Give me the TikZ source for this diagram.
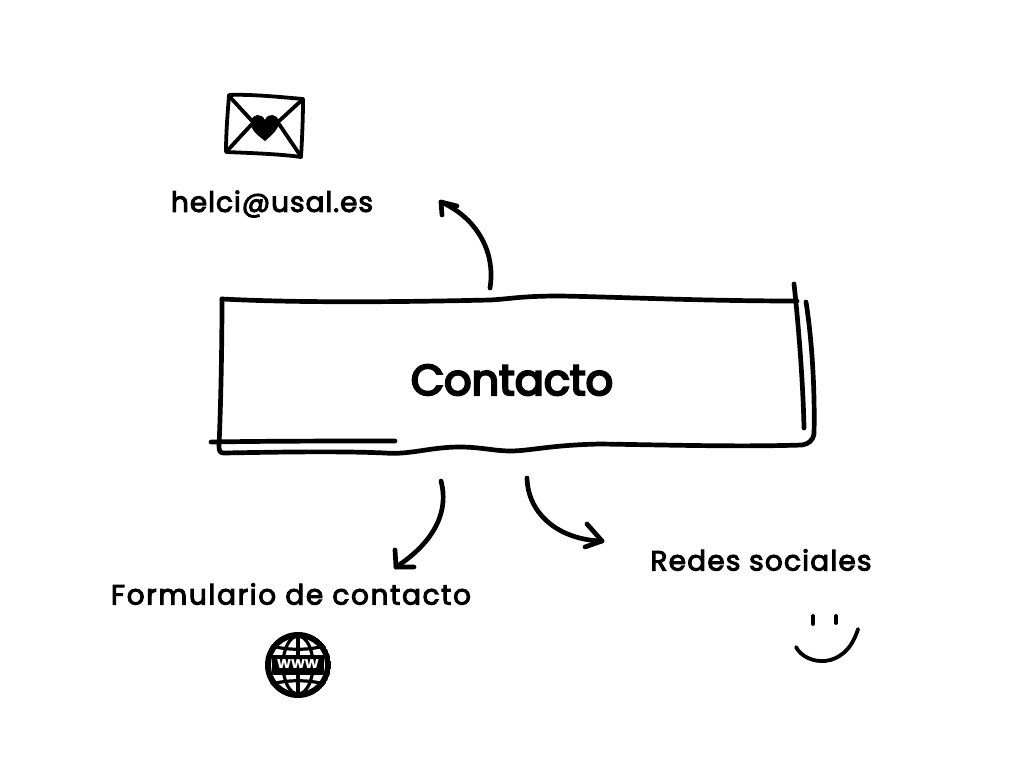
\documentclass[tikz,border=0pt]{standalone}
\usepackage{fontspec}
\setmainfont{Poppins}
\newfontfamily\handfont[FakeBold=3.5]{Poppins}
\newfontfamily\handtitle[FakeBold=5]{Poppins}
\usetikzlibrary{calc}
\tikzset{
  ink/.style={draw=black,line width=4.7pt,line cap=round,line join=round},
  thinink/.style={draw=black,line width=3.8pt,line cap=round,line join=round},
  label/.style={inner sep=0pt,text=black},
  title/.style={inner sep=0pt,font=\handtitle\fontsize{43}{46}\selectfont,text=black},
}
\begin{document}
\begin{tikzpicture}[x=1pt,y=-1pt]
\useasboundingbox (0,0) rectangle (1024,768);
% box
\draw[ink] (222,299) .. controls (300,303) and (400,302) .. (490,300)
  .. controls (510,299) and (520,296) .. (560,296)
  .. controls (620,297) and (700,301) .. (797,301);
\draw[ink] (222,299) .. controls (222,340) and (221,400) .. (219,446)
  .. controls (219,451) and (220,453) .. (224,453)
  .. controls (280,452) and (340,451) .. (385,453)
  .. controls (410,455) and (430,447) .. (460,447)
  .. controls (480,447) and (495,451) .. (510,451)
  .. controls (530,451) and (550,445) .. (600,444)
  .. controls (670,445) and (740,447) .. (802,445)
  .. controls (809,444) and (813,440) .. (814,434)
  .. controls (815,390) and (812,340) .. (806,302);
\draw[ink] (794,284) .. controls (798,320) and (803,380) .. (804,428);
\draw[ink] (211,442) .. controls (270,441) and (340,441) .. (395,441);
\node[title] (contacto) at (512,380) {Contacto};
% labels
\node[label,font=\handfont\fontsize{28}{30}\selectfont\addfontfeature{LetterSpace=3.4}] (mail) at (272,204) {helci@usal.es};
\node[label,font=\handfont\fontsize{28}{30}\selectfont\addfontfeature{LetterSpace=5.9}] (form) at (291,594) {Formulario de contacto};
\node[label,font=\handfont\fontsize{28}{30}\selectfont\addfontfeature{LetterSpace=4.2}] (redes) at (761,560) {Redes sociales};
% arrows
\coordinate (a1s) at (490,288); \coordinate (a1e) at (441,202);
\coordinate (a2s) at (441,481); \coordinate (a2e) at (396,567);
\coordinate (a3s) at (527,478); \coordinate (a3e) at (602,541);
\draw[ink] (a1s) .. controls (496,250) and (475,217) .. (a1e);
\draw[ink] (442,215) -- (a1e) -- (457,206);
\draw[ink] (a2s) .. controls (450,515) and (430,545) .. (a2e);
\draw[ink] (395,550) -- (a2e) -- (414,567);
\draw[ink] (a3s) .. controls (528,515) and (560,540) .. (a3e);
\draw[ink] (587,524) -- (a3e) -- (585,547);
% envelope
\draw[thinink] (229,95) .. controls (250,94) and (280,97) .. (303,99)
  .. controls (303,120) and (302,140) .. (301,157)
  .. controls (280,154) and (250,153) .. (226,152)
  .. controls (226,130) and (228,110) .. (229,95) -- cycle;
\draw[thinink] (229,96) -- (253,122);
\draw[thinink] (303,99) -- (278,122);
\draw[thinink] (227,151) -- (252,124);
\draw[thinink] (300,155) -- (279,124);
\fill (265,141) .. controls (257,135) and (250,129) .. (251,122)
  .. controls (252,113) and (262,113) .. (265,120)
  .. controls (268,112) and (278,114) .. (279,122)
  .. controls (279,129) and (272,135) .. (265,141) -- cycle;
% globe
\begin{scope}[shift={(298,665)}]
\clip (0,0) circle (33);
\fill[black] (0,0) circle (33);
\fill[white] (0,0) circle (27);
\draw[black,line width=3.2pt] (-32,-21) .. controls (-15,-14) and (15,-14) .. (32,-21);
\draw[black,line width=3.2pt] (-32,21) .. controls (-15,14) and (15,14) .. (32,21);
\draw[black,line width=3.2pt] (0,-32) -- (0,32);
\draw[black,line width=3.2pt] (0,0) ellipse (15 and 29);
\fill[black] (-26,-10) rectangle (26,10);
\end{scope}
\node[inner sep=0pt,text=white,font=\fontsize{16}{16}\selectfont\bfseries] (www) at (298,664) {www};
% smile
\draw[thinink] (813,616) -- (813,624);
\draw[thinink] (836,616) -- (836,623);
\draw[thinink] (796,647) .. controls (805,665) and (845,672) .. (858,629);
\end{tikzpicture}
\end{document}
